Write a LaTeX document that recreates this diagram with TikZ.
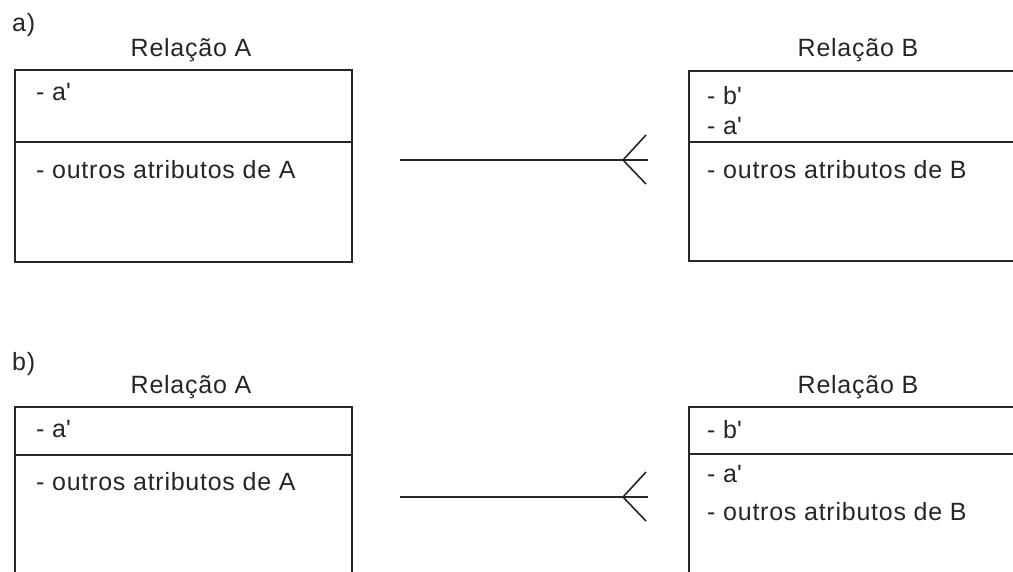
\documentclass[tikz,border=0pt]{standalone}
\usepackage{fontspec}
\setmainfont[LetterSpace=3]{Liberation Sans}
\newcommand{\ap}{\textquotesingle}
\begin{document}
\begin{tikzpicture}[x=1pt,y=-1pt,
  frame/.style={draw=black!85,line width=1.6pt},
  attr/.style={anchor=base west,inner sep=0pt,font=\fontsize{25}{30}\selectfont,text=black!85},
  title/.style={anchor=base,inner sep=0pt,font=\fontsize{25}{30}\selectfont,text=black!85},
  link/.style={draw=black!85,line width=1.6pt}]
\useasboundingbox (0,0) rectangle (1013,571);
\clip (0,0) rectangle (1013,571);

% ---------- a) ----------
\node[attr] (la) at (12,31) {a)};
\node[title] (tAa) at (191,56) {Relação A};
\node[title] (tBa) at (858,56) {Relação B};
\draw[frame] (15,70) rectangle (352,262);
\draw[frame] (15,142) -- (352,142);
\node[attr] (a1) at (36,100) {- a\ap};
\node[attr] (a2) at (36,178) {- outros atributos de A};
\draw[frame] (689,71) rectangle (1030,261);
\draw[frame] (689,142) -- (1030,142);
\node[attr] (b1) at (707,104) {- b\ap};
\node[attr] (b2) at (707,134) {- a\ap};
\node[attr] (b3) at (707,178) {- outros atributos de B};
\coordinate (sa) at (400,160);
\coordinate (ea) at (648,160);
\coordinate (va) at (623,160);
\coordinate (ua) at (646,135);
\coordinate (da) at (646,184);
\draw[link] (sa) -- (ea);
\draw[link] (ua) -- (va) -- (da);

% ---------- b) ----------
\node[attr] (lb) at (12,370) {b)};
\node[title] (tAb) at (191,393) {Relação A};
\node[title] (tBb) at (858,393) {Relação B};
\draw[frame] (15,407) rectangle (352,590);
\draw[frame] (15,455) -- (352,455);
\node[attr] (c1) at (36,437) {- a\ap};
\node[attr] (c2) at (36,490) {- outros atributos de A};
\draw[frame] (689,407) rectangle (1030,590);
\draw[frame] (689,454) -- (1030,454);
\node[attr] (d1) at (707,438) {- b\ap};
\node[attr] (d2) at (707,482) {- a\ap};
\node[attr] (d3) at (707,520) {- outros atributos de B};
\coordinate (sb) at (400,497);
\coordinate (eb) at (648,497);
\coordinate (vb) at (623,497);
\coordinate (ub) at (646,472);
\coordinate (db) at (646,521);
\draw[link] (sb) -- (eb);
\draw[link] (ub) -- (vb) -- (db);
\end{tikzpicture}
\end{document}
